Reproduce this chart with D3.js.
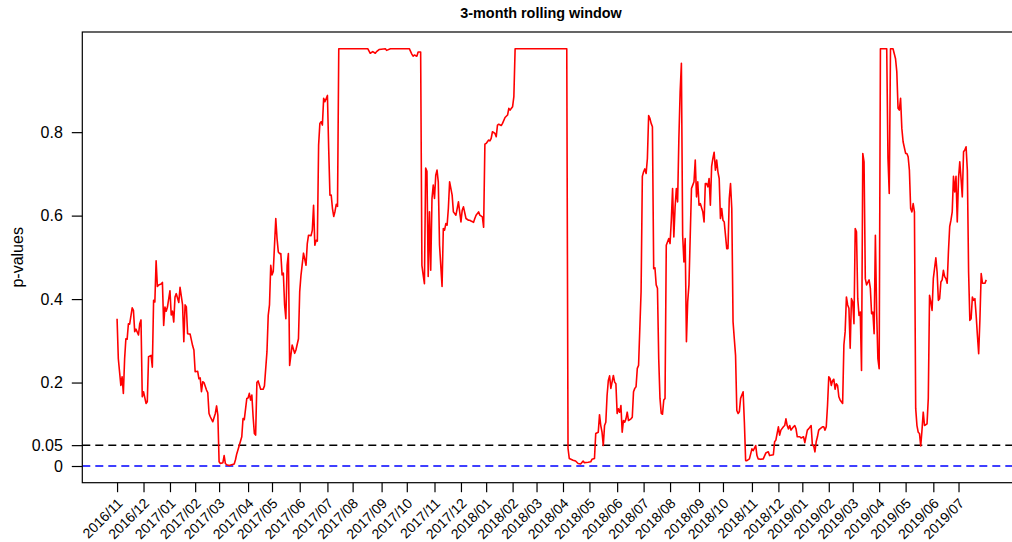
<!DOCTYPE html>
<html>
<head>
<meta charset="utf-8">
<script src="https://cdn.jsdelivr.net/npm/d3@7/dist/d3.min.js"></script>
<style>
  body { margin: 0; background: #fff; }
  text { font-family: "Liberation Sans", Arial, Helvetica, sans-serif; }
</style>
</head>
<body>
<div id="chart"></div>
<script>
// month labels on the x axis, and number of trading days in each month
const monthLabels = ["2016/11","2016/12","2017/01","2017/02","2017/03","2017/04","2017/05","2017/06",
  "2017/07","2017/08","2017/09","2017/10","2017/11","2017/12","2018/01","2018/02","2018/03","2018/04",
  "2018/05","2018/06","2018/07","2018/08","2018/09","2018/10","2018/11","2018/12","2019/01","2019/02",
  "2019/03","2019/04","2019/05","2019/06","2019/07"];
const monthTradingDays = [21,21,20,19,23,19,22,22,20,23,20,22,21,20,21,19,21,21,22,21,21,23,19,23,21,19,21,19,21,21,22,20];

// trading day index (0 = 2016/11/01) and rolling p-value
const tradingDay = [0,1,3,4,5,6,7,8,9,10,12,13,14,15,17,18,19,20,21,23,24,25,27,28,29,30,31,32,33,35,36,37,38,39,40,42,43,44,45,46,47,49,50,52,53,54,55,56,58,60,61,62,64,65,66,67,68,69,71,72,73,74,76,78,79,80,81,82,84,85,86,87,89,91,93,94,95,97,99,100,101,103,104,105,106,107,108,109,110,111,112,114,116,117,119,120,121,122,123,124,126,127,128,129,130,131,132,133,134,135,136,137,
  139,141,142,144,145,146,148,150,151,152,154,155,156,157,158,159,160,161,162,163,164,165,167,168,169,170,171,172,173,174,175,176,199,201,203,205,206,208,213,214,217,232,234,235,236,238,239,241,242,243,244,245,246,247,248,249,250,251,252,253,254,255,256,258,259,260,261,262,263,264,266,267,269,270,271,273,274,275,277,279,
  280,281,283,284,285,287,288,290,291,292,293,295,296,297,298,300,301,302,303,305,306,308,310,311,312,314,315,316,357,358,359,362,364,366,368,370,371,374,376,377,379,380,382,383,384,385,386,387,388,389,390,391,392,394,395,396,397,398,399,400,401,402,403,404,405,406,408,409,410,411,412,413,414,416,417,418,419,420,421,422,
  423,424,425,426,427,428,429,430,431,432,433,434,435,436,438,439,440,441,442,443,444,445,446,447,448,449,450,451,452,453,454,456,457,458,459,460,461,462,463,465,466,467,468,469,470,471,472,473,474,475,476,477,478,479,480,481,482,484,485,486,487,488,489,490,491,492,493,494,495,497,498,499,500,502,503,504,505,507,508,509,511,513,515,517,518,521,522,523,525,526,527,529,530,531,532,533,534,535,537,538,539,540,542,543,545,546,548,549,551,552,553,554,555,556,557,558,560,561,562,563,564,565,
  566,567,568,569,570,571,572,573,574,576,577,578,579,580,581,582,583,584,585,586,587,588,589,590,591,592,593,594,595,597,598,599,600,601,602,603,604,605,606,611,612,613,614,616,618,619,620,621,622,623,624,626,627,628,629,630,631,632,633,634,635,636,637,638,639,640,641,643,644,645,646,647,648,650,651,652,653,654,655,656,657,658,659,660,661,662,663,664,665,666,667,668,669,670,671,672,673,674,675,676,677,678,679,680,681,682,683,684,685,686,687,689,690];
const pValue = [0.353,0.257,0.193,0.214,0.174,0.257,0.305,0.304,0.341,0.34,0.379,0.373,0.322,0.328,0.314,0.341,0.35,0.166,0.178,0.15,0.154,0.262,0.265,0.237,0.397,0.393,0.492,0.43,0.434,0.436,0.44,0.337,0.381,0.371,0.381,0.42,0.362,0.371,0.345,0.405,0.413,0.392,0.428,0.386,0.298,0.386,0.381,0.317,0.316,0.288,0.278,0.226,0.227,0.209,0.211,0.178,0.202,0.2,0.182,0.176,0.126,0.118,0.106,0.126,0.144,0.122,0.01,0.006,0.008,0.025,0.006,0.003,0.001,0.003,0.005,0.015,0.029,0.049,0.07,0.114,0.111,0.162,0.163,0.174,0.158,0.17,0.118,0.078,0.074,0.2,0.204,0.184,0.184,0.192,0.274,0.361,0.386,0.481,0.458,0.466,0.593,0.545,0.513,0.509,0.509,0.458,0.462,0.386,0.353,0.481,0.509,0.241,
  0.29,0.27,0.278,0.305,0.418,0.457,0.51,0.481,0.533,0.553,0.552,0.565,0.625,0.529,0.541,0.539,0.769,0.821,0.825,0.817,0.881,0.873,0.888,0.761,0.649,0.649,0.617,0.598,0.61,0.627,0.622,1.0,1.0,0.989,0.993,0.989,0.993,0.998,1.0,0.996,1.0,1.0,0.987,0.982,0.985,0.982,0.992,0.992,0.481,0.458,0.437,0.714,0.706,0.454,0.609,0.469,0.641,0.673,0.641,0.697,0.709,0.681,0.529,0.43,0.569,0.565,0.581,0.577,0.617,0.681,0.649,0.609,0.601,0.617,0.633,0.585,0.613,0.621,0.593,0.589,
  0.589,0.587,0.584,0.593,0.601,0.609,0.601,0.597,0.572,0.771,0.773,0.781,0.779,0.785,0.801,0.797,0.789,0.817,0.819,0.816,0.821,0.835,0.841,0.857,0.853,0.861,0.885,1.0,1.0,0.042,0.018,0.014,0.012,0.006,0.005,0.012,0.008,0.009,0.01,0.016,0.018,0.078,0.081,0.123,0.097,0.081,0.049,0.097,0.105,0.169,0.205,0.216,0.186,0.217,0.201,0.197,0.126,0.137,0.129,0.145,0.081,0.109,0.105,0.113,0.129,0.109,0.113,0.117,0.178,0.186,0.19,0.234,0.241,0.418,0.694,0.705,0.712,0.701,0.737,0.84,
  0.833,0.821,0.813,0.473,0.475,0.434,0.426,0.257,0.162,0.126,0.124,0.158,0.162,0.529,0.545,0.533,0.589,0.665,0.549,0.621,0.665,0.633,0.785,0.897,0.965,0.553,0.489,0.545,0.298,0.394,0.434,0.665,0.673,0.681,0.733,0.645,0.681,0.625,0.629,0.609,0.585,0.677,0.677,0.669,0.689,0.625,0.718,0.737,0.752,0.709,0.733,0.705,0.689,0.593,0.617,0.589,0.585,0.521,0.521,0.641,0.677,0.617,0.346,0.305,0.265,0.133,0.126,0.13,0.162,0.178,0.105,0.013,0.013,0.017,0.029,0.041,0.037,0.049,0.025,0.017,0.016,0.017,0.031,0.034,0.025,0.027,0.058,0.062,0.094,0.074,0.086,0.094,0.097,0.113,0.097,0.089,0.097,0.086,0.094,0.097,0.089,0.07,0.07,0.067,0.07,0.056,0.086,0.089,0.097,0.049,0.049,0.034,0.058,0.07,0.086,0.089,0.094,0.094,0.086,0.094,0.145,0.214,
  0.21,0.193,0.205,0.208,0.184,0.197,0.193,0.166,0.158,0.15,0.29,0.322,0.405,0.386,0.378,0.282,0.401,0.393,0.341,0.569,0.561,0.401,0.361,0.369,0.229,0.749,0.729,0.449,0.434,0.446,0.426,0.365,0.369,0.317,0.553,0.369,0.257,0.233,1.0,1.0,0.737,0.653,1.0,1.0,0.976,0.945,0.857,0.853,0.881,0.809,0.777,0.749,0.749,0.741,0.709,0.617,0.609,0.629,0.609,0.138,0.097,0.081,0.078,0.048,0.086,0.129,0.097,0.101,0.162,0.409,0.393,0.373,0.449,0.499,0.465,0.397,0.401,0.441,0.446,0.469,0.454,0.449,0.438,0.514,0.574,0.589,0.609,0.694,0.657,0.694,0.585,0.689,0.729,0.689,0.645,0.753,0.757,0.765,0.709,0.465,0.349,0.353,0.405,0.397,0.401,0.361,0.313,0.269,0.353,0.461,0.438,0.438,0.446];

const yTicks = [0, 0.05, 0.2, 0.4, 0.6, 0.8];
const cutoff = 0.05;

const width = 1012, height = 542;
const plot = {left: 82.3, right: 1021, top: 32, bottom: 482.7};

const points = tradingDay.map((d, i) => ({day: d, p: pValue[i]}));

// month start positions from the trading day counts
const monthStarts = [0];
monthTradingDays.forEach(n => monthStarts.push(monthStarts[monthStarts.length - 1] + n));

// R style 4% padding on both axes
const xExt = d3.extent(tradingDay), xPad = (xExt[1] - xExt[0]) * 0.04;
const x = d3.scaleLinear().domain([xExt[0] - xPad, xExt[1] + xPad]).range([plot.left, plot.right]);
const y = d3.scaleLinear().domain([-0.04, 1.04]).range([plot.bottom, plot.top]);

const svg = d3.select("#chart").append("svg")
    .attr("width", width)
    .attr("height", height);

svg.append("defs").append("clipPath").attr("id", "clip")
  .append("rect")
    .attr("x", plot.left).attr("y", plot.top)
    .attr("width", plot.right - plot.left).attr("height", plot.bottom - plot.top);

// reference lines
svg.append("line")
    .attr("x1", plot.left).attr("x2", plot.right)
    .attr("y1", y(cutoff)).attr("y2", y(cutoff))
    .attr("stroke", "#000").attr("stroke-width", 1.5)
    .attr("stroke-dasharray", "8,5");
svg.append("line")
    .attr("x1", plot.left).attr("x2", plot.right)
    .attr("y1", y(0)).attr("y2", y(0))
    .attr("stroke", "#0000ff").attr("stroke-width", 1.5)
    .attr("stroke-dasharray", "8,5");

// the p-value line
const valueLine = d3.line()
    .x(d => x(d.day))
    .y(d => y(d.p));

svg.append("path")
    .datum(points)
    .attr("clip-path", "url(#clip)")
    .attr("fill", "none")
    .attr("stroke", "#ff0000")
    .attr("stroke-width", 1.6)
    .attr("stroke-linejoin", "round")
    .attr("d", valueLine);

// box
svg.append("rect")
    .attr("x", plot.left).attr("y", plot.top)
    .attr("width", plot.right - plot.left).attr("height", plot.bottom - plot.top)
    .attr("fill", "none").attr("stroke", "#000").attr("stroke-width", 1.2);

// Y axis
const yAxis = svg.append("g")
    .attr("transform", "translate(" + plot.left + ",0)")
    .call(d3.axisLeft(y).tickValues(yTicks).tickSize(10.5).tickPadding(9)
      .tickFormat(d => d === 0.05 ? "0.05" : d === 0 ? "0" : d3.format(".1f")(d)));
yAxis.select(".domain").remove();
yAxis.selectAll("line").attr("stroke-width", 1.2);
yAxis.selectAll("text").attr("font-size", 16).attr("fill", "#000")
    .style("font-family", '"Liberation Sans", Arial, sans-serif');

// X axis
const xAxis = svg.append("g")
    .attr("transform", "translate(0," + plot.bottom + ")")
    .call(d3.axisBottom(x).tickValues(monthStarts).tickSize(9.5).tickFormat(""));
xAxis.select(".domain").remove();
xAxis.selectAll("line").attr("stroke-width", 1.2);

svg.append("g").selectAll("text")
  .data(monthStarts)
  .join("text")
    .attr("transform", d => "translate(" + (x(d) + 3) + "," + (plot.bottom + 18) + ") rotate(-45)")
    .attr("text-anchor", "end")
    .attr("dy", "0.35em")
    .attr("font-size", 14)
    .text((d, i) => monthLabels[i]);

// title and y label
svg.append("text")
    .attr("x", 541).attr("y", 18)
    .attr("text-anchor", "middle")
    .attr("font-size", 14.4)
    .attr("font-weight", "bold")
    .text("3-month rolling window");

svg.append("text")
    .attr("transform", "translate(23," + ((plot.top + plot.bottom) / 2) + ") rotate(-90)")
    .attr("text-anchor", "middle")
    .attr("font-size", 16)
    .text("p-values");
</script>
</body>
</html>
